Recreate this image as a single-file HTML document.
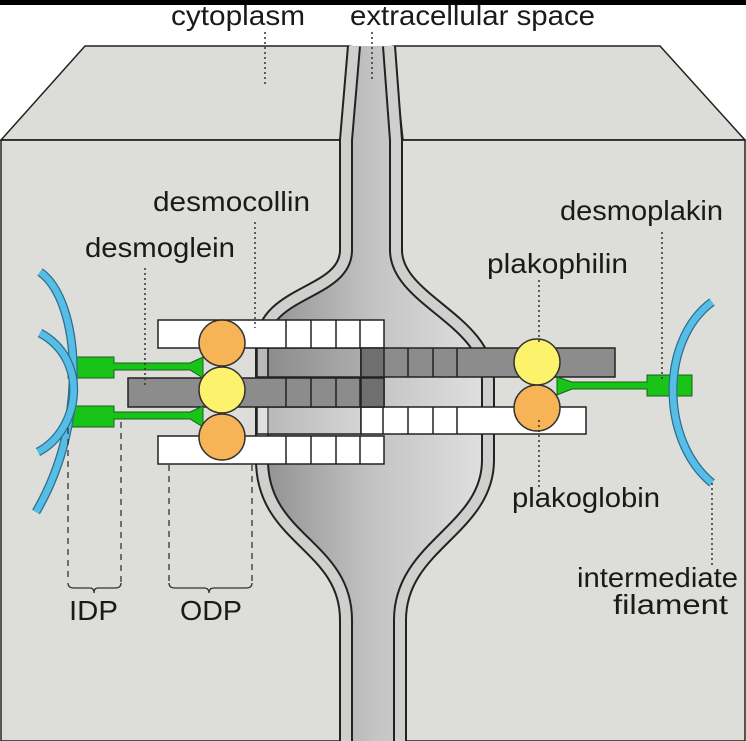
<!DOCTYPE html>
<html><head><style>
html,body{margin:0;padding:0;background:#fff;}
svg{display:block;}
text{font-family:"Liberation Sans",Arial,sans-serif;font-size:28px;fill:#1a1a1a;}
</style></head><body>
<svg width="746" height="741" viewBox="0 0 746 741" xmlns="http://www.w3.org/2000/svg">
<defs>
<linearGradient id="ec" x1="255" y1="0" x2="495" y2="0" gradientUnits="userSpaceOnUse">
<stop offset="0" stop-color="#8e8e8e"/><stop offset="0.5" stop-color="#c4c4c4"/><stop offset="1" stop-color="#e2e2e2"/>
</linearGradient>
</defs>
<rect x="0" y="0" width="746" height="741" fill="#fff"/>
<rect x="0" y="0" width="746" height="5" fill="#000"/>
<polygon points="1,140 85,46 350,46 340,140" fill="#dcdcd8" stroke="#222" stroke-width="1.5"/>
<polygon points="403,140 393,46 660,46 745,140" fill="#dcdcd8" stroke="#222" stroke-width="1.5"/>
<rect x="1" y="140" width="744" height="601" fill="#dddeda" stroke="#222" stroke-width="1.5"/>
<path d="M354,46 L346,140 L346,250 C346,295 262,290 262,345 L262,460 C262,540 346,545 346,620 L346,741 L400,741 L400,620 C400,545 488,530 488,460 L488,380 C488,320 396,300 396,250 L396,140 L389,46 Z" fill="url(#ec)"/>
<g fill="none" stroke-linejoin="round">
<path d="M354,46 L346,140 L346,250 C346,295 262,290 262,345 L262,460 C262,540 346,545 346,620 L346,741" stroke="#222" stroke-width="14"/>
<path d="M354,46 L346,140 L346,250 C346,295 262,290 262,345 L262,460 C262,540 346,545 346,620 L346,741" stroke="#cfcfcd" stroke-width="10"/>
<path d="M389,46 L396,140 L396,250 C396,300 488,320 488,380 L488,460 C488,530 400,545 400,620 L400,741" stroke="#222" stroke-width="14"/>
<path d="M389,46 L396,140 L396,250 C396,300 488,320 488,380 L488,460 C488,530 400,545 400,620 L400,741" stroke="#cfcfcd" stroke-width="10"/>
</g>
<line x1="1" y1="140" x2="340" y2="140" stroke="#222" stroke-width="1.5"/>
<line x1="403" y1="140" x2="745" y2="140" stroke="#222" stroke-width="1.5"/>
<g stroke="#222" stroke-width="1.5">
<rect x="257" y="348" width="104" height="29" fill="#777" fill-opacity="0.25"/>
<rect x="257" y="407" width="104" height="27" fill="#fff" fill-opacity="0.35"/>
<rect x="361" y="348" width="254" height="29" fill="#8c8c8c"/>
<rect x="361" y="407" width="225" height="27" fill="#fff"/>
<line x1="383" y1="348" x2="383" y2="377"/><line x1="408" y1="348" x2="408" y2="377"/><line x1="433" y1="348" x2="433" y2="377"/><line x1="457" y1="348" x2="457" y2="377"/>
<line x1="383" y1="407" x2="383" y2="434"/><line x1="408" y1="407" x2="408" y2="434"/><line x1="433" y1="407" x2="433" y2="434"/><line x1="457" y1="407" x2="457" y2="434"/>
<rect x="158" y="320" width="226" height="28" fill="#fff"/>
<rect x="128" y="378" width="256" height="29" fill="#8c8c8c"/>
<rect x="158" y="436" width="226" height="28" fill="#fff"/>
<rect x="361" y="378" width="23" height="29" fill="#6f6f6f"/>
<rect x="361" y="348" width="23" height="29" fill="#6f6f6f"/>
<line x1="286" y1="320" x2="286" y2="348"/><line x1="311" y1="320" x2="311" y2="348"/><line x1="336" y1="320" x2="336" y2="348"/><line x1="360" y1="320" x2="360" y2="348"/>
<line x1="286" y1="378" x2="286" y2="407"/><line x1="311" y1="378" x2="311" y2="407"/><line x1="336" y1="378" x2="336" y2="407"/><line x1="360" y1="378" x2="360" y2="407"/>
<line x1="286" y1="436" x2="286" y2="464"/><line x1="311" y1="436" x2="311" y2="464"/><line x1="336" y1="436" x2="336" y2="464"/><line x1="360" y1="436" x2="360" y2="464"/>
</g>
<g fill="#17c417" stroke="#1a5e1a" stroke-width="1">
<path d="M68,357 L114,357 L114,363 L190,363 L203,357 L203,378 L190,370 L114,370 L114,378 L68,378 Z"/>
<path d="M68,406 L114,406 L114,412 L190,412 L203,406 L203,427 L190,419 L114,419 L114,427 L68,427 Z"/>
<path d="M692,375 L647,375 L647,382 L572,382 L557,377 L557,395 L572,389 L647,389 L647,396 L692,396 Z"/>
</g>
<g fill="none">
<path d="M40,272 C80,300 90,420 36,512" stroke="#2b6f8e" stroke-width="9"/>
<path d="M40,272 C80,300 90,420 36,512" stroke="#56bde6" stroke-width="6.5"/>
<path d="M40,333 C90,360 80,430 38,452" stroke="#2b6f8e" stroke-width="9"/>
<path d="M40,333 C90,360 80,430 38,452" stroke="#56bde6" stroke-width="6.5"/>
<path d="M712,302 C660,340 660,440 712,483" stroke="#2b6f8e" stroke-width="9"/>
<path d="M712,302 C660,340 660,440 712,483" stroke="#56bde6" stroke-width="6.5"/>
</g>
<g stroke="#333" stroke-width="1.5">
<circle cx="222" cy="343" r="23" fill="#f7b456"/>
<circle cx="222" cy="437" r="23" fill="#f7b456"/>
<circle cx="222" cy="390" r="23" fill="#fdf26c"/>
<circle cx="537" cy="362" r="23" fill="#fdf26c"/>
<circle cx="537" cy="408" r="23" fill="#f7b456"/>
</g>
<g stroke="#333" stroke-width="1.5" stroke-dasharray="2,3" fill="none">
<line x1="265" y1="32" x2="265" y2="86"/>
<line x1="372" y1="32" x2="372" y2="80"/>
<line x1="255" y1="222" x2="255" y2="328"/>
<line x1="145" y1="268" x2="145" y2="386"/>
<line x1="539" y1="280" x2="539" y2="345"/>
<line x1="662" y1="232" x2="662" y2="382"/>
<line x1="539" y1="420" x2="539" y2="490"/>
<line x1="712" y1="483" x2="712" y2="565"/>
</g>
<g stroke="#333" stroke-width="1.3" stroke-dasharray="6,5" fill="none">
<line x1="68" y1="428" x2="68" y2="582"/>
<line x1="121" y1="422" x2="121" y2="582"/>
<line x1="169" y1="465" x2="169" y2="582"/>
<line x1="252" y1="465" x2="252" y2="582"/>
</g>
<g stroke="#333" stroke-width="1.3" fill="none">
<path d="M68,583 Q68,588 74,588 L90,588 Q94,588 94,593 Q94,588 98,588 L115,588 Q121,588 121,583"/>
<path d="M169,583 Q169,588 175,588 L204,588 Q209,588 209,593 Q209,588 214,588 L246,588 Q252,588 252,583"/>
</g>
<g>
<text x="171" y="25" textLength="134" lengthAdjust="spacingAndGlyphs">cytoplasm</text>
<text x="350" y="25" textLength="245" lengthAdjust="spacingAndGlyphs">extracellular space</text>
<text x="153" y="211" textLength="157" lengthAdjust="spacingAndGlyphs">desmocollin</text>
<text x="85" y="257" textLength="150" lengthAdjust="spacingAndGlyphs">desmoglein</text>
<text x="487" y="273" textLength="141" lengthAdjust="spacingAndGlyphs">plakophilin</text>
<text x="560" y="220" textLength="163" lengthAdjust="spacingAndGlyphs">desmoplakin</text>
<text x="512" y="507" textLength="148" lengthAdjust="spacingAndGlyphs">plakoglobin</text>
<text x="577" y="587" textLength="161" lengthAdjust="spacingAndGlyphs">intermediate</text>
<text x="613" y="614" textLength="115" lengthAdjust="spacingAndGlyphs">filament</text>
<text x="69" y="620" textLength="49" lengthAdjust="spacingAndGlyphs">IDP</text>
<text x="180" y="620" textLength="62" lengthAdjust="spacingAndGlyphs">ODP</text>
</g>
</svg>
</body></html>
